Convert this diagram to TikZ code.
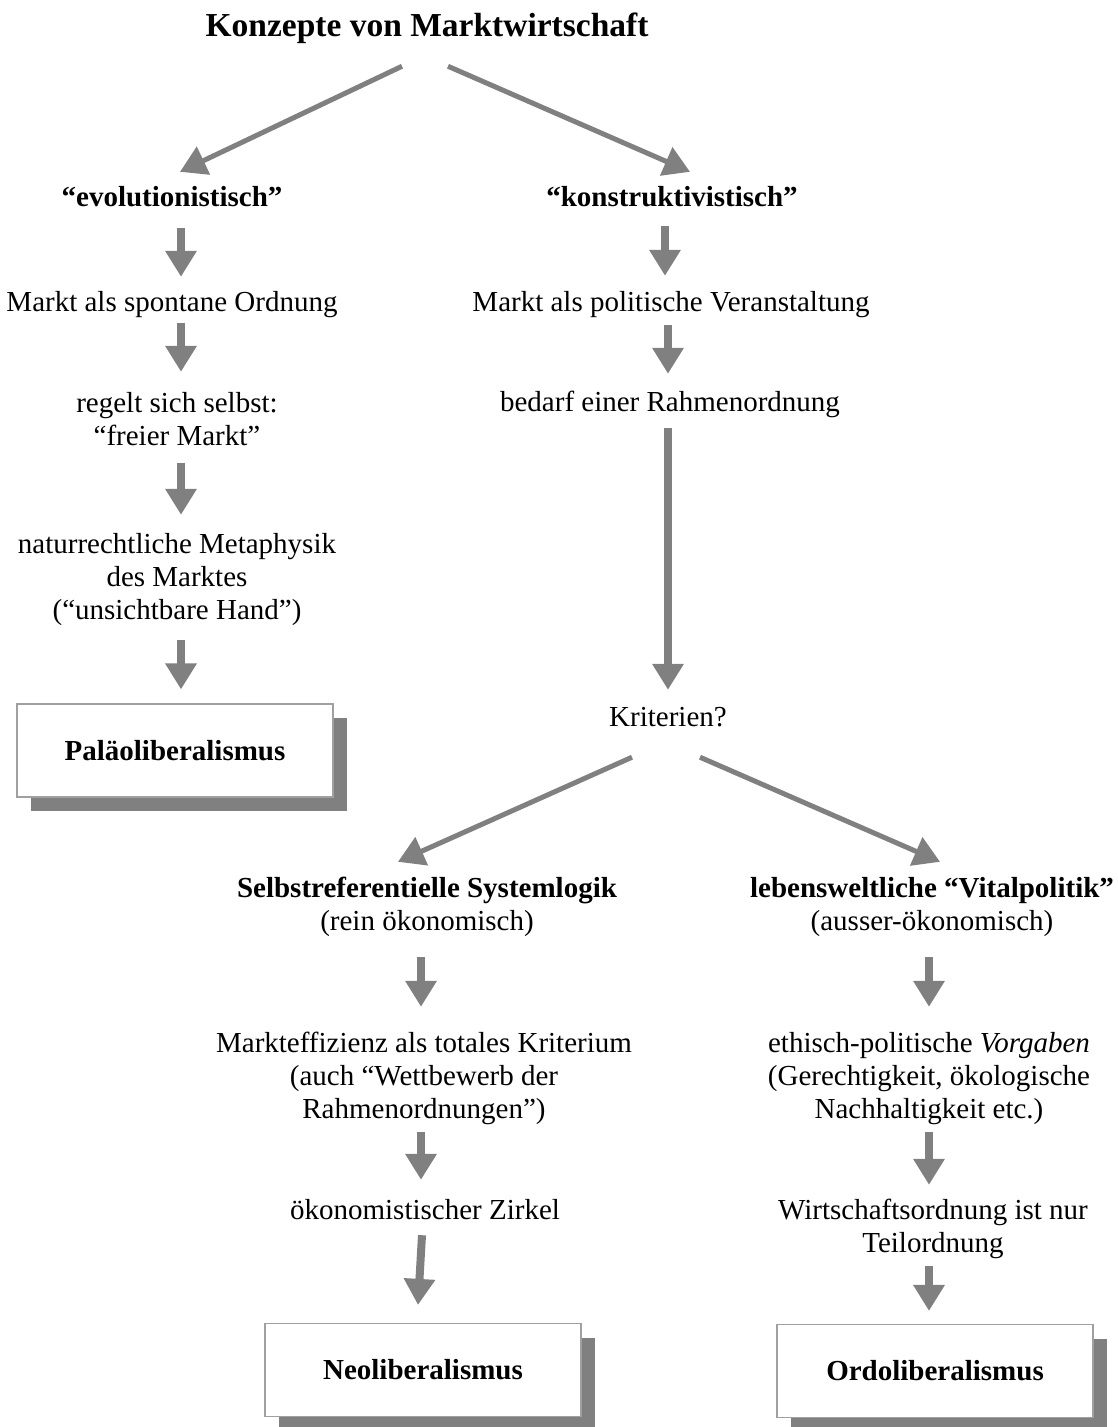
\documentclass[tikz,border=0pt]{standalone}
\usepackage{fontspec}
\setmainfont{Liberation Serif}
\usetikzlibrary{arrows.meta,shadows}
\definecolor{arrowgray}{RGB}{128,128,128}
\definecolor{boxgray}{RGB}{160,160,160}
\definecolor{shadowgray}{RGB}{128,128,128}
\newcommand\fs{\fontsize{29}{33}\selectfont}
\newcommand\fst{\fontsize{33.5}{38.5}\selectfont}
\tikzset{
  varrow/.style={draw=arrowgray, line width=8pt, -{Triangle[width=30pt,length=26pt]}},
  darrow/.style={draw=arrowgray, line width=5pt, -{Triangle[width=30pt,length=26pt]}},
  txt/.style={anchor=base, align=center, inner sep=0pt, font=\fs},
  endbox/.style={draw=boxgray, line width=1.2pt, fill=white, inner sep=0pt,
    minimum width=316pt, minimum height=93pt, font=\fs\bfseries,
    drop shadow={shadow xshift=14pt, shadow yshift=-14pt, fill=shadowgray, opacity=1}}
}
\begin{document}
\begin{tikzpicture}[x=1pt,y=-1pt]
\useasboundingbox (0,0) rectangle (1117,1427);
% title
\node[anchor=base, inner sep=0pt, font=\fst\bfseries] (title) at (427,36) {\strut Konzepte von Marktwirtschaft};
% left column
\node[txt, font=\fs\bfseries] (evo) at (172,206) {\strut “evolutionistisch”};
\node[txt] (m1) at (172,311) {\strut Markt als spontane Ordnung};
\node[txt] (reg) at (177,445) {\strut regelt sich selbst:\\\strut “freier Markt”};
\node[txt] (nat) at (177,619) {\strut naturrechtliche Metaphysik\\\strut des Marktes\\\strut (“unsichtbare Hand”)};
\node[endbox] (pal) at (175,750.5) {Paläoliberalismus};
% right column
\node[txt, font=\fs\bfseries] (kon) at (672,206) {\strut “konstruktivistisch”};
\node[txt] (m2) at (671,311) {\strut Markt als politische Veranstaltung};
\node[txt] (bed) at (670,411) {\strut bedarf einer Rahmenordnung};
\node[txt] (krit) at (668,726) {\strut Kriterien?};
% lower middle
\node[txt] (sel) at (427,930) {\strut\textbf{Selbstreferentielle Systemlogik}\\\strut (rein ökonomisch)};
\node[txt] (eff) at (424,1118) {\strut Markteffizienz als totales Kriterium\\\strut (auch “Wettbewerb der\\\strut Rahmenordnungen”)};
\node[txt] (zirk) at (425,1219) {\strut ökonomistischer Zirkel};
\node[endbox] (neo) at (423,1370) {Neoliberalismus};
% lower right
\node[txt] (leb) at (932,930) {\strut\textbf{lebensweltliche “Vitalpolitik”}\\\strut (ausser-ökonomisch)};
\node[txt] (eth) at (929,1118) {\strut ethisch-politische \textit{Vorgaben}\\\strut (Gerechtigkeit, ökologische\\\strut Nachhaltigkeit etc.)};
\node[txt] (wir) at (933,1252) {\strut Wirtschaftsordnung ist nur\\\strut Teilordnung};
\node[endbox] (ordo) at (935,1371) {Ordoliberalismus};
% diagonal arrows
\draw[darrow] ([shift={(-25,18.5)}]title.south) -- ([shift={(8,-10.9)}]evo.north);
\draw[darrow] ([shift={(21,18.5)}]title.south) -- ([shift={(18,-10.9)}]kon.north);
\draw[darrow] ([shift={(-36,21.1)}]krit.south) -- ([shift={(-29,-11.9)}]sel.north);
\draw[darrow] ([shift={(32,21.1)}]krit.south) -- ([shift={(8,-11.9)}]leb.north);
% left vertical arrows
\draw[varrow] ([shift={(9,12.1)}]evo.south) -- ([shift={(9,-10.9)}]m1.north);
\draw[varrow] ([shift={(9,2.1)}]m1.south) -- ([shift={(4,-16.9)}]reg.north);
\draw[varrow] ([shift={(4,8.1)}]reg.south) -- ([shift={(4,-14.9)}]nat.north);
\draw[varrow] ([shift={(4,11.1)}]nat.south) -- ([shift={(6,-14)}]pal.north);
% right vertical arrows
\draw[varrow] ([shift={(-7,10.1)}]kon.south) -- ([shift={(-6,-11.9)}]m2.north);
\draw[varrow] ([shift={(-3,4.1)}]m2.south) -- ([shift={(-2,-13.9)}]bed.north);
\draw[varrow] ([shift={(-2,7.1)}]bed.south) -- ([shift={(0,-12.9)}]krit.north);
% middle lower arrows
\draw[varrow] ([shift={(-6,17.1)}]sel.south) -- ([shift={(-3,-21.9)}]eff.north);
\draw[varrow] ([shift={(-3,4.1)}]eff.south) -- ([shift={(-4,-15.9)}]zirk.north);
\draw[varrow] ([shift={(-3,6.1)}]zirk.south) -- ([shift={(-5,-18)}]neo.north);
% right lower arrows
\draw[varrow] ([shift={(-3,17.1)}]leb.south) -- ([shift={(0,-21.9)}]eth.north);
\draw[varrow] ([shift={(0,4.1)}]eth.south) -- ([shift={(-4,-10.9)}]wir.north);
\draw[varrow] ([shift={(-4,4.1)}]wir.south) -- ([shift={(-6,-13)}]ordo.north);
\end{tikzpicture}
\end{document}
